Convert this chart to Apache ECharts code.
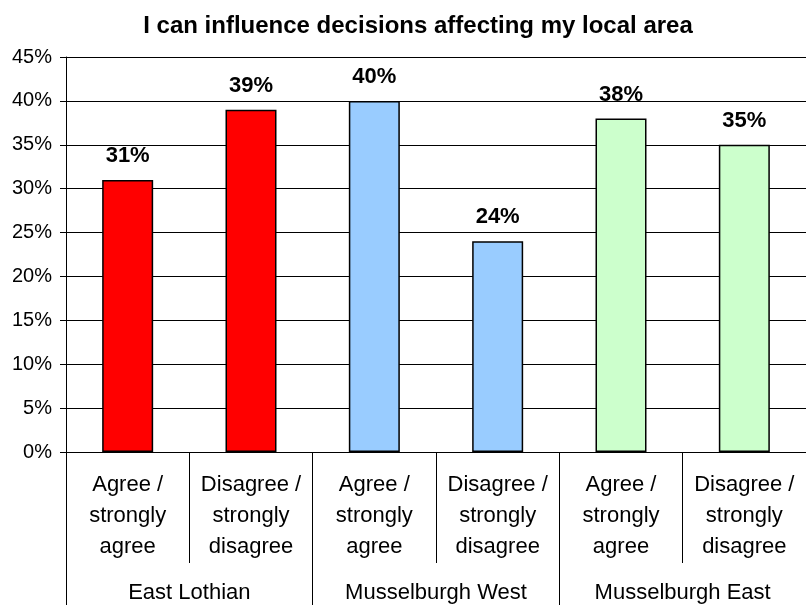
<!DOCTYPE html>
<html>
<head>
    <meta charset="utf-8">
    <script src="https://cdn.jsdelivr.net/npm/echarts@6.0.0/dist/echarts.min.js"></script>
    <style>
        html, body { margin: 0; padding: 0; background: #fff; }
    </style>
</head>
<body>
    <div id="echartsMain" style="width: 806px; height: 605px;"></div>
</body>
</html>

<script type="text/javascript">
    let categories = ['Agree /\nstrongly\nagree', 'Disagree /\nstrongly\ndisagree',
        'Agree /\nstrongly\nagree', 'Disagree /\nstrongly\ndisagree',
        'Agree /\nstrongly\nagree', 'Disagree /\nstrongly\ndisagree']
    let groups = ['East Lothian', 'Musselburgh West', 'Musselburgh East']
    let values = [31, 39, 40, 24, 38, 35]
    let barColors = ['#FF0000', '#FF0000', '#99CCFF', '#99CCFF', '#CCFFCC', '#CCFFCC']

    let myChart = echarts.init(document.getElementById('echartsMain'))
    let font = 'Liberation Sans, Arial, sans-serif'

    let option = {
        animation: false,
        title: {
            text: 'I can influence decisions affecting my local area',
            left: 413,
            top: 9,
            textAlign: 'center',
            textStyle: { fontFamily: font, fontSize: 24, fontWeight: 'bold', color: '#000' }
        },
        grid: { left: 66, right: 0, top: 57, bottom: 153, containLabel: false },
        xAxis: [{
            type: 'category',
            data: categories,
            position: 'bottom',
            axisLine: { lineStyle: { color: '#000', width: 1 } },
            axisTick: { show: true, length: 111, alignWithLabel: false, lineStyle: { color: '#000' } },
            axisLabel: { interval: 0, margin: 17, fontFamily: font, fontSize: 22, lineHeight: 31, color: '#000' }
        }, {
            type: 'category',
            data: groups,
            position: 'bottom',
            axisLine: { lineStyle: { color: '#000', width: 1 } },
            axisTick: { show: true, length: 160, lineStyle: { color: '#000' } },
            axisLabel: { interval: 0, margin: 130, fontFamily: font, fontSize: 22, lineHeight: 22, color: '#000' }
        }],
        yAxis: {
            type: 'value',
            min: 0,
            max: 45,
            interval: 5,
            axisLine: { show: true, lineStyle: { color: '#000', width: 1 } },
            axisTick: { show: true, length: 6, lineStyle: { color: '#000' } },
            splitLine: { show: true, lineStyle: { color: '#000', width: 1 } },
            axisLabel: { formatter: '{value}%', margin: 14, fontFamily: font, fontSize: 20, color: '#000' }
        },
        series: [{
            type: 'bar',
            xAxisIndex: 0,
            barWidth: 51,
            data: values.map((v, i) => ({
                value: v,
                itemStyle: { color: barColors[i], borderColor: '#000', borderWidth: 1.5 }
            })),
            label: {
                show: true,
                position: 'top',
                distance: 13,
                formatter: '{c}%',
                fontFamily: font,
                fontSize: 22,
                fontWeight: 'bold',
                color: '#000'
            }
        }]
    }
    myChart.setOption(option)
</script>
